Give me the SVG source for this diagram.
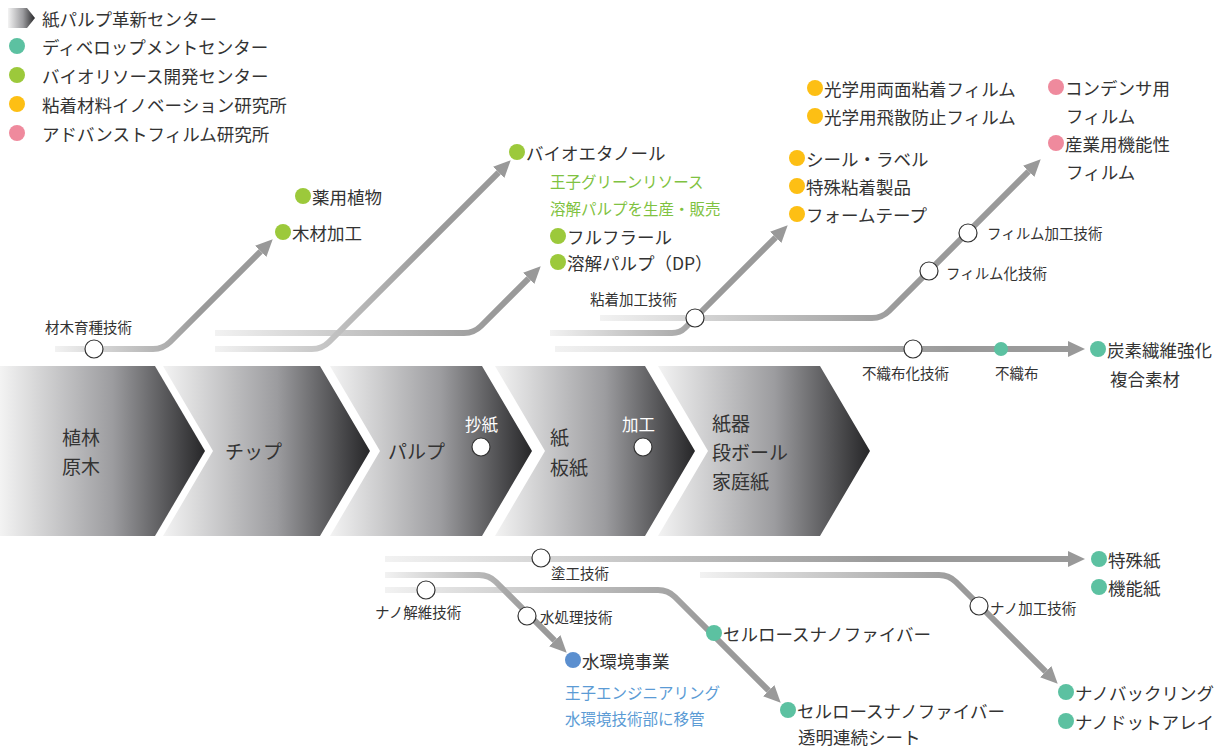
<svg xmlns="http://www.w3.org/2000/svg" width="1230" height="749" viewBox="0 0 1230 749">
<defs>
<style>
text{font-family:"Noto Sans CJK JP","Noto Sans",sans-serif;fill:#333;dominant-baseline:central}
.lg{font-size:17.5px}
.it{font-size:17.5px}
.sm{font-size:14.5px}
.ch{font-size:19px}
.wt{font-size:16.5px;fill:#fff}
.gt{font-size:15.5px;fill:#7fc241}
.bt{font-size:15.5px;fill:#5b9bd5}
.ln{fill:none;stroke-width:6}
.nd{fill:#fff;stroke:#333;stroke-width:1.2}
.teal{fill:#5cc1a1}.green{fill:#9cc93b}.yel{fill:#fdbf14}.pink{fill:#ef8a9d}.blue{fill:#5b8fcf}
.chev{fill:url(#cg)}
</style>
<linearGradient id="cg" x1="0" y1="0" x2="1" y2="0">
<stop offset="0" stop-color="#f3f3f3"/><stop offset="0.55" stop-color="#9c9c9f"/><stop offset="1" stop-color="#262628"/>
</linearGradient>
<marker id="ar" markerUnits="userSpaceOnUse" markerWidth="18" markerHeight="16" refX="0" refY="8" orient="auto" viewBox="0 0 18 16">
<path d="M0,0 L17,8 L0,16 Z" fill="#999"/>
</marker>
<linearGradient id="g1" gradientUnits="userSpaceOnUse" x1="55" y1="0" x2="200" y2="0"><stop offset="0" stop-color="#f2f2f2"/><stop offset="1" stop-color="#9a9a9a"/></linearGradient>
<linearGradient id="g2" gradientUnits="userSpaceOnUse" x1="215" y1="0" x2="430" y2="0"><stop offset="0" stop-color="#f2f2f2"/><stop offset="1" stop-color="#9a9a9a"/></linearGradient>
<linearGradient id="g3" gradientUnits="userSpaceOnUse" x1="215" y1="0" x2="490" y2="0"><stop offset="0" stop-color="#f2f2f2"/><stop offset="1" stop-color="#9a9a9a"/></linearGradient>
<linearGradient id="g4" gradientUnits="userSpaceOnUse" x1="550" y1="0" x2="710" y2="0"><stop offset="0" stop-color="#f2f2f2"/><stop offset="1" stop-color="#9a9a9a"/></linearGradient>
<linearGradient id="g5" gradientUnits="userSpaceOnUse" x1="600" y1="0" x2="900" y2="0"><stop offset="0" stop-color="#f2f2f2"/><stop offset="1" stop-color="#9a9a9a"/></linearGradient>
<linearGradient id="g6" gradientUnits="userSpaceOnUse" x1="555" y1="0" x2="950" y2="0"><stop offset="0" stop-color="#f2f2f2"/><stop offset="1" stop-color="#9a9a9a"/></linearGradient>
<linearGradient id="g7" gradientUnits="userSpaceOnUse" x1="385" y1="0" x2="880" y2="0"><stop offset="0" stop-color="#f2f2f2"/><stop offset="1" stop-color="#9a9a9a"/></linearGradient>
<linearGradient id="g8" gradientUnits="userSpaceOnUse" x1="385" y1="0" x2="530" y2="0"><stop offset="0" stop-color="#f2f2f2"/><stop offset="1" stop-color="#9a9a9a"/></linearGradient>
<linearGradient id="g9" gradientUnits="userSpaceOnUse" x1="385" y1="0" x2="710" y2="0"><stop offset="0" stop-color="#f2f2f2"/><stop offset="1" stop-color="#9a9a9a"/></linearGradient>
<linearGradient id="g10" gradientUnits="userSpaceOnUse" x1="700" y1="0" x2="960" y2="0"><stop offset="0" stop-color="#f2f2f2"/><stop offset="1" stop-color="#9a9a9a"/></linearGradient>
</defs>
<rect width="1230" height="749" fill="#fff"/>

<g id="legend">
<polygon class="chev" points="8,8 27,8 35,18 27,28 8,28"/>
<text class="lg" x="42" y="18">紙パルプ革新センター</text>
<circle class="teal" cx="17" cy="46" r="8"/><text class="lg" x="42" y="46">ディベロップメントセンター</text>
<circle class="green" cx="17" cy="75" r="8"/><text class="lg" x="42" y="75">バイオリソース開発センター</text>
<circle class="yel" cx="17" cy="104" r="8"/><text class="lg" x="42" y="104">粘着材料イノベーション研究所</text>
<circle class="pink" cx="17" cy="133" r="8"/><text class="lg" x="42" y="133">アドバンストフィルム研究所</text>
</g>

<g id="chevrons">
<g id="chev1"><polygon class="chev" points="0,366 155,366 205,451 155,536 0,536"/><text class="ch" x="62" y="436">植林</text><text class="ch" x="62" y="465">原木</text></g>
<g id="chev2"><polygon class="chev" points="163,366 320,366 370,451 320,536 163,536 213,451"/><text class="ch" x="225" y="450">チップ</text></g>
<g id="chev3"><polygon class="chev" points="330,366 482,366 532,451 482,536 330,536 380,451"/><text class="ch" x="388" y="450">パルプ</text><text class="wt" x="465" y="424">抄紙</text><circle class="nd" cx="481" cy="447" r="9"/></g>
<g id="chev4"><polygon class="chev" points="495,366 645,366 695,451 645,536 495,536 545,451"/><text class="ch" x="550" y="436">紙</text><text class="ch" x="550" y="466">板紙</text><text class="wt" x="622" y="424">加工</text><circle class="nd" cx="643" cy="447" r="9"/></g>
<g id="chev5"><polygon class="chev" points="658,366 820,366 870,451 820,536 658,536 708,451"/><text class="ch" x="712" y="422">紙器</text><text class="ch" x="712" y="451">段ボール</text><text class="ch" x="712" y="480">家庭紙</text></g>
</g>

<g id="connectors">
<path class="ln" stroke="url(#g3)" d="M215,333 H464 Q474,333 481,326 L528.7,278.3" marker-end="url(#ar)"/>
<path class="ln" stroke="url(#g2)" d="M215,349 H312 Q322,349 329,342 L498.7,172.3" marker-end="url(#ar)"/>
<path class="ln" stroke="url(#g1)" d="M55,349 H153 Q163,349 170,342 L260.7,251.3" marker-end="url(#ar)"/>
<path class="ln" stroke="url(#g5)" d="M600,318 H872 Q882,318 889,311 L1028.7,171.3" marker-end="url(#ar)"/>
<path class="ln" stroke="url(#g4)" d="M550,333 H672 Q680,333 685,328 L775.7,237.3" marker-end="url(#ar)"/>
<path class="ln" stroke="url(#g6)" d="M555,349 H1068" marker-end="url(#ar)"/>
<path class="ln" stroke="url(#g7)" d="M385,559 H1068" marker-end="url(#ar)"/>
<path class="ln" stroke="url(#g10)" d="M700,575 H939 Q949,575 956,582 L1045.7,671.7" marker-end="url(#ar)"/>
<path class="ln" stroke="url(#g9)" d="M385,590 H658 Q668,590 675,597 L768.7,690.7" marker-end="url(#ar)"/>
<path class="ln" stroke="url(#g8)" d="M385,575 H479 Q489,575 496,582 L554.7,640.7" marker-end="url(#ar)"/>
</g>

<g id="tech-nodes">
<g id="n-ikushu"><circle class="nd" cx="94" cy="349" r="9"/><text class="sm" x="45" y="326">材木育種技術</text></g>
<g id="n-nenchaku"><circle class="nd" cx="695" cy="318" r="9"/><text class="sm" x="590" y="298">粘着加工技術</text></g>
<g id="n-filmka"><circle class="nd" cx="929" cy="271" r="9"/><text class="sm" x="946" y="272">フィルム化技術</text></g>
<g id="n-filmkako"><circle class="nd" cx="968" cy="233" r="9"/><text class="sm" x="987" y="232">フィルム加工技術</text></g>
<g id="n-fushokuka"><circle class="nd" cx="913" cy="349" r="9"/><text class="sm" x="862" y="372">不織布化技術</text></g>
<g id="n-fushoku"><circle class="teal" cx="1001" cy="349" r="7"/><text class="sm" x="995" y="372">不織布</text></g>
<g id="n-toko"><circle class="nd" cx="541" cy="558" r="9"/><text class="sm" x="551" y="572">塗工技術</text></g>
<g id="n-nanokaii"><circle class="nd" cx="426" cy="590" r="9"/><text class="sm" x="375" y="611">ナノ解維技術</text></g>
<g id="n-mizu"><circle class="nd" cx="527" cy="616" r="9"/><text class="sm" x="540" y="616">水処理技術</text></g>
<g id="n-nanokako"><circle class="nd" cx="979" cy="606" r="9"/><text class="sm" x="990" y="607">ナノ加工技術</text></g>
</g>

<g id="products">
<g id="p-yakuyo"><circle class="green" cx="303" cy="196" r="8"/><text class="it" x="312" y="196">薬用植物</text></g>
<g id="p-mokuzai"><circle class="green" cx="283" cy="232" r="8"/><text class="it" x="292" y="232">木材加工</text></g>
<g id="p-bio"><circle class="green" cx="517" cy="152" r="8"/><text class="it" x="526" y="152">バイオエタノール</text>
<text class="gt" x="550" y="181">王子グリーンリソース</text><text class="gt" x="550" y="208">溶解パルプを生産・販売</text></g>
<g id="p-furu"><circle class="green" cx="558" cy="236" r="8"/><text class="it" x="567" y="236">フルフラール</text></g>
<g id="p-dp"><circle class="green" cx="558" cy="262" r="8"/><text class="it" x="567" y="262">溶解パルプ（DP）</text></g>
<g id="p-kogaku1"><circle class="yel" cx="815" cy="88" r="8"/><text class="it" x="824" y="88">光学用両面粘着フィルム</text></g>
<g id="p-kogaku2"><circle class="yel" cx="815" cy="116" r="8"/><text class="it" x="824" y="116">光学用飛散防止フィルム</text></g>
<g id="p-seal"><circle class="yel" cx="797" cy="158" r="8"/><text class="it" x="806" y="158">シール・ラベル</text></g>
<g id="p-tokushu"><circle class="yel" cx="797" cy="186" r="8"/><text class="it" x="806" y="186">特殊粘着製品</text></g>
<g id="p-foam"><circle class="yel" cx="797" cy="214" r="8"/><text class="it" x="806" y="214">フォームテープ</text></g>
<g id="p-condenser"><circle class="pink" cx="1056" cy="87" r="8"/><text class="it" x="1065" y="87">コンデンサ用</text><text class="it" x="1066" y="115">フィルム</text></g>
<g id="p-sangyo"><circle class="pink" cx="1056" cy="143" r="8"/><text class="it" x="1065" y="143">産業用機能性</text><text class="it" x="1066" y="171">フィルム</text></g>
<g id="p-tanso"><circle class="teal" cx="1098" cy="349" r="8"/><text class="it" x="1107" y="349">炭素繊維強化</text><text class="it" x="1110" y="378">複合素材</text></g>
<g id="p-tokushushi"><circle class="teal" cx="1099" cy="559" r="8"/><text class="it" x="1108" y="559">特殊紙</text></g>
<g id="p-kinoshi"><circle class="teal" cx="1099" cy="587" r="8"/><text class="it" x="1108" y="587">機能紙</text></g>
<g id="p-nanobuck"><circle class="teal" cx="1066" cy="692" r="8"/><text class="it" x="1075" y="692">ナノバックリング</text></g>
<g id="p-nanodot"><circle class="teal" cx="1066" cy="721" r="8"/><text class="it" x="1075" y="721">ナノドットアレイ</text></g>
<g id="p-cnf"><circle class="teal" cx="714" cy="633" r="8"/><text class="it" x="723" y="633">セルロースナノファイバー</text></g>
<g id="p-cnfsheet"><circle class="teal" cx="788" cy="710" r="8"/><text class="it" x="797" y="710">セルロースナノファイバー</text><text class="it" x="798" y="736">透明連続シート</text></g>
<g id="p-mizu"><circle class="blue" cx="573" cy="660" r="8"/><text class="it" x="582" y="660">水環境事業</text>
<text class="bt" x="565" y="692">王子エンジニアリング</text><text class="bt" x="565" y="718">水環境技術部に移管</text></g>
</g>
</svg>
